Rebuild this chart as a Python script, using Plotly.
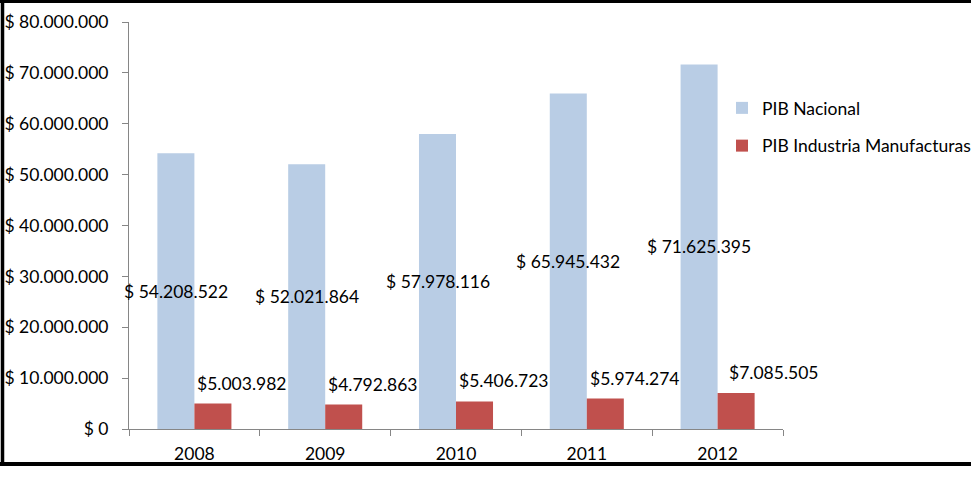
import plotly.graph_objects as go

years = ["2008", "2009", "2010", "2011", "2012"]
pib_nacional = [54208522, 52021864, 57978116, 65945432, 71625395]
pib_manufactura = [5003982, 4792863, 5406723, 5974274, 7085505]
nac_labels = ["$ 54.208.522", "$ 52.021.864", "$ 57.978.116", "$ 65.945.432", "$ 71.625.395"]
man_labels = ["$5.003.982", "$4.792.863", "$5.406.723", "$5.974.274", "$7.085.505"]
tick_vals = [0, 10000000, 20000000, 30000000, 40000000, 50000000, 60000000, 70000000, 80000000]
tick_text = ["$ 0", "$ 10.000.000", "$ 20.000.000", "$ 30.000.000", "$ 40.000.000",
             "$ 50.000.000", "$ 60.000.000", "$ 70.000.000", "$ 80.000.000"]

FONT = "Lato"
FS = 17.5
W, H = 971, 478
ML, MR, MT, MB = 129, 188, 22, 49
pw, ph = W - ML - MR, H - MT - MB

def px_x(p):
    return (p - ML) / pw

def px_y(p):
    return (H - MB - p) / ph

fig = go.Figure()
fig.add_trace(go.Bar(x=years, y=pib_nacional, name="PIB Nacional",
                     marker=dict(color="#B9CDE5", line=dict(width=0)),
                     legendgroup="a", hoverinfo="skip"))
fig.add_trace(go.Bar(x=years, y=pib_manufactura, name="PIB Industria Manufacturas",
                     marker=dict(color="#C0504D", line=dict(width=0)),
                     legendgroup="b", hoverinfo="skip"))

annotations = []
for i, yr in enumerate(years):
    annotations.append(dict(x=i, y=pib_nacional[i] / 2, xref="x", yref="y",
                            text=nac_labels[i], showarrow=False, xshift=-18.5,
                            font=dict(family=FONT, size=FS, color="#000000")))
    annotations.append(dict(x=i, y=pib_manufactura[i], xref="x", yref="y",
                            text=man_labels[i], showarrow=False, xanchor="left",
                            yanchor="bottom", xshift=1 if i < 4 else 9, yshift=8,
                            font=dict(family=FONT, size=FS, color="#000000")))

shapes = [
    dict(type="line", xref="paper", yref="paper", x0=px_x(0), x1=px_x(W + 5),
         y0=px_y(1.5), y1=px_y(1.5), line=dict(color="#000000", width=3)),
    dict(type="line", xref="paper", yref="paper", x0=px_x(2.5), x1=px_x(2.5),
         y0=px_y(0), y1=px_y(466), line=dict(color="#000000", width=3.5)),
    dict(type="line", xref="paper", yref="paper", x0=px_x(0), x1=px_x(W + 5),
         y0=px_y(464), y1=px_y(464), line=dict(color="#000000", width=4)),
]

fig.update_layout(
    width=W, height=H,
    margin=dict(l=ML, r=MR, t=MT, b=MB, autoexpand=False),
    paper_bgcolor="#FFFFFF", plot_bgcolor="#FFFFFF",
    barmode="group", bargap=0.434, bargroupgap=0,
    font=dict(family=FONT, size=FS, color="#000000"),
    showlegend=True,
    legend=dict(x=px_x(722), y=px_y(90), xanchor="left", yanchor="top",
                font=dict(family=FONT, size=17.5, color="#000000"),
                tracegroupgap=12, traceorder="grouped",
                bgcolor="rgba(0,0,0,0)"),
    xaxis=dict(type="category", range=[-0.5, 4.5], showline=True,
               linecolor="#868686", linewidth=1,
               ticks="outside", tickson="boundaries", ticklen=6, tickcolor="#868686",
               ticklabelstandoff=9,
               showgrid=False, tickfont=dict(family=FONT, size=FS), zeroline=False),
    yaxis=dict(range=[0, 80000000], tickvals=tick_vals, ticktext=tick_text,
               showline=True, linecolor="#868686", linewidth=1,
               ticks="outside", ticklen=6, tickcolor="#868686", ticklabelstandoff=10,
               showgrid=False, zeroline=False, tickfont=dict(family=FONT, size=FS)),
    annotations=annotations, shapes=shapes,
)

fig.write_html("out.html")
